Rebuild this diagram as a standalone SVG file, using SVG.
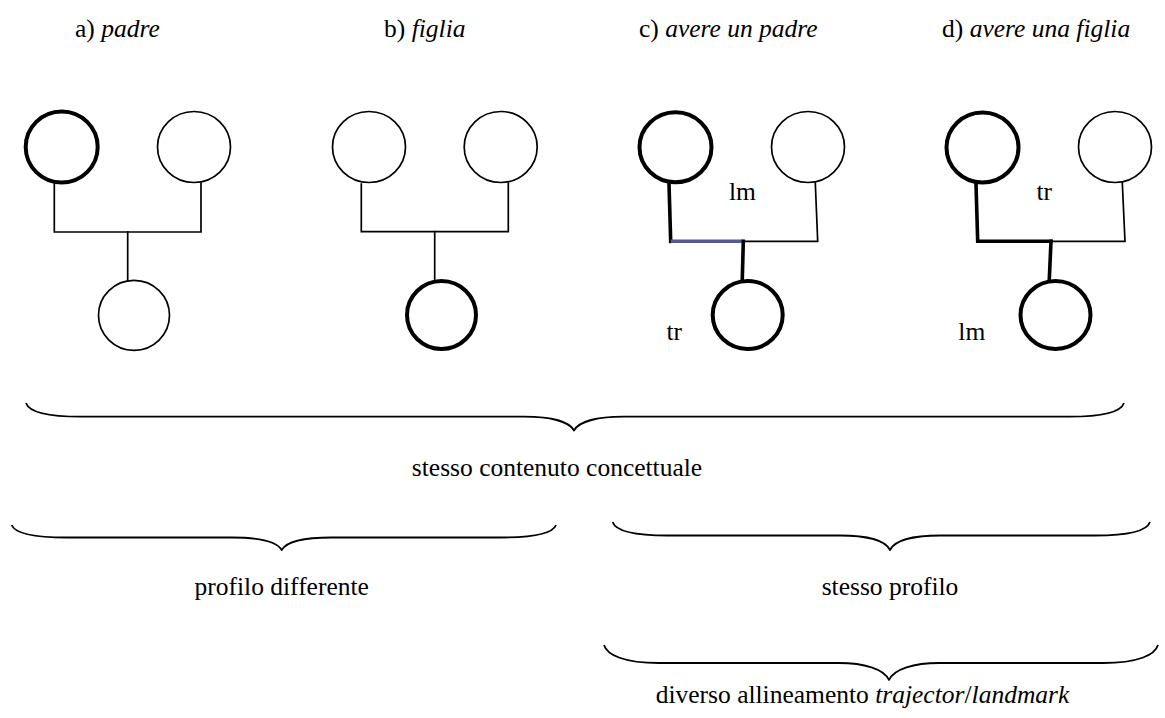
<svg xmlns="http://www.w3.org/2000/svg" width="1165" height="718" viewBox="0 0 1165 718">
  <style>
    text { font-family: "Liberation Serif", Tinos, "DejaVu Serif", "Noto Serif", serif; font-size: 25.5px; fill: #000; }
    .it { font-style: italic; }
    .node { fill: #fff; stroke: #000; stroke-width: 1.7; }
    .node.bold { stroke-width: 4; }
    .link { fill: none; stroke: #000; stroke-width: 1.7; stroke-linecap: square; }
    .link.bold { stroke-width: 3.6; }
    .link.blue { stroke: #575792; stroke-width: 3.6; stroke-linecap: butt; }
    .brace { fill: none; stroke: #000; stroke-width: 1.8; stroke-linejoin: round; }
  </style>

  <rect width="1165" height="718" fill="#fff"/>

  <!-- panel titles -->
  <g id="titles" font-family="Liberation Serif, serif">
    <text x="75" y="37">a) <tspan class="it">padre</tspan></text>
    <text x="384" y="37">b) <tspan class="it">figlia</tspan></text>
    <text x="639" y="37">c) <tspan class="it">avere un padre</tspan></text>
    <text x="942" y="37">d) <tspan class="it">avere una figlia</tspan></text>
  </g>

  <!-- connectors -->
  <g id="connectors">
    <!-- a) padre -->
    <path class="link" d="M54.3,184 V232 H201 V183"/>
    <path class="link" d="M127.7,232 V280"/>
    <!-- b) figlia -->
    <path class="link" d="M361.3,184 V231.7 H508.3 V183"/>
    <path class="link" d="M434.7,231.7 V279"/>
    <!-- c) avere un padre -->
    <path class="link bold" d="M669,184 L670.7,241.3"/>
    <path class="link blue" d="M670.7,241.3 H743.3"/>
    <path class="link" d="M743.3,241.3 H817.7 L815.3,183"/>
    <path class="link bold" d="M743.3,241.3 L742.3,279"/>
    <!-- d) avere una figlia -->
    <path class="link bold" d="M976,184 L977.7,241.3 H1051"/>
    <path class="link" d="M1051,241.3 H1125 L1122.3,183"/>
    <path class="link bold" d="M1051,241.3 L1049.3,279"/>
  </g>

  <!-- a) padre -->
  <g id="a-father"><ellipse class="node bold" cx="61.7" cy="147" rx="36" ry="35.5"/></g>
  <g id="a-mother"><ellipse class="node" cx="194" cy="147" rx="36.5" ry="35.5"/></g>
  <g id="a-child"><ellipse class="node" cx="134" cy="315.3" rx="35.5" ry="35"/></g>

  <!-- b) figlia -->
  <g id="b-father"><ellipse class="node" cx="369" cy="147" rx="36.5" ry="35.5"/></g>
  <g id="b-mother"><ellipse class="node" cx="500.7" cy="147" rx="36.5" ry="35.5"/></g>
  <g id="b-child"><ellipse class="node bold" cx="441.5" cy="315" rx="34.5" ry="34"/></g>

  <!-- c) avere un padre -->
  <g id="c-father"><ellipse class="node bold" cx="675.5" cy="147.3" rx="36" ry="35"/></g>
  <g id="c-mother"><ellipse class="node" cx="808" cy="147" rx="36.5" ry="35.5"/></g>
  <g id="c-child"><ellipse class="node bold" cx="747.7" cy="315" rx="35" ry="34"/></g>
  <g id="c-labels">
    <text x="729" y="200">lm</text>
    <text x="666.5" y="340">tr</text>
  </g>

  <!-- d) avere una figlia -->
  <g id="d-father"><ellipse class="node bold" cx="982.5" cy="147.5" rx="36" ry="35"/></g>
  <g id="d-mother"><ellipse class="node" cx="1115" cy="147" rx="36.5" ry="35.5"/></g>
  <g id="d-child"><ellipse class="node bold" cx="1055.5" cy="315" rx="35" ry="34"/></g>
  <g id="d-labels">
    <text x="1036.5" y="200">tr</text>
    <text x="958.3" y="340">lm</text>
  </g>

  <!-- braces and their captions -->
  <g id="brace-content">
    <path class="brace" d="M26,403 C29,412 46,416.7 81,416.7 L524,416.7 C549,416.7 569,421 574,430.5 C579,421 599,416.7 624,416.7 L1069,416.7 C1104,416.7 1121,412 1124,403"/>
    <text x="557" y="476" text-anchor="middle">stesso contenuto concettuale</text>
  </g>
  <g id="brace-profile-diff">
    <path class="brace" d="M11.7,525 C14.7,533 31.7,537.5 66.7,537.5 L231.7,537.5 C256.7,537.5 276.7,541 281.7,550 C286.7,541 306.7,537.5 331.7,537.5 L501,537.5 C536,537.5 553,533 556,525"/>
    <text x="281.7" y="595" text-anchor="middle">profilo differente</text>
  </g>
  <g id="brace-profile-same">
    <path class="brace" d="M612.6,522 C615.6,531 632.6,535.5 667.6,535.5 L840,535.5 C865,535.5 885,540 890,550 C895,540 915,535.5 940,535.5 L1095,535.5 C1130,535.5 1147,531 1150,522"/>
    <text x="890" y="595" text-anchor="middle">stesso profilo</text>
  </g>
  <g id="brace-alignment">
    <path class="brace" d="M604,645 C607,655 624,663 659,663 L839,663 C864,663 884,669 889,680 C894,669 914,663 939,663 L1103,663 C1138,663 1155,655 1158,645"/>
    <text x="862.5" y="703" text-anchor="middle">diverso allineamento <tspan class="it">trajector</tspan>/<tspan class="it">landmark</tspan></text>
  </g>
</svg>
